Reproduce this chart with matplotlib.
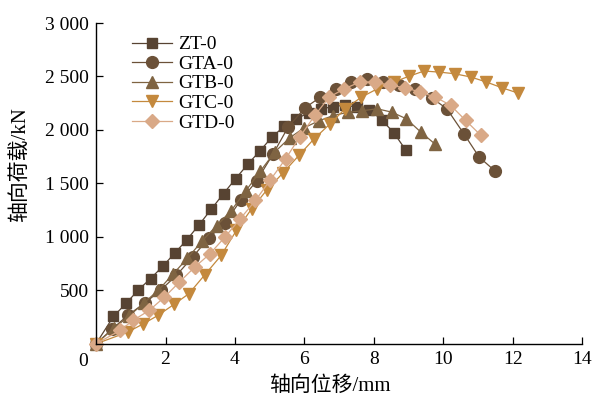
import matplotlib
matplotlib.use("Agg")
import matplotlib.pyplot as plt
from matplotlib.ticker import FixedLocator, FuncFormatter
import matplotlib.transforms as mtransforms

plt.rcParams['font.family'] = ['Liberation Serif', 'Noto Sans CJK SC', 'DejaVu Sans']

# ZT-0
zt_x = [0, 0.5, 0.87, 1.22, 1.57, 1.92, 2.27, 2.62, 2.97, 3.32, 3.67, 4.02, 4.37,
        4.72, 5.07, 5.42, 5.77, 6.12, 6.47, 6.82, 7.17, 7.52, 7.87, 8.22, 8.57, 8.92]
zt_y = [0, 256, 380, 505, 610, 725, 850, 975, 1115, 1260, 1405, 1545, 1680,
        1805, 1935, 2035, 2105, 2160, 2200, 2215, 2235, 2210, 2190, 2095, 1975, 1810]

# GTA-0
gta_x = [0, 0.47, 0.93, 1.40, 1.87, 2.31, 2.78, 3.24, 3.71, 4.16, 4.62, 5.10, 5.53,
         6.02, 6.46, 6.91, 7.35, 7.81, 8.26, 8.73, 9.19, 9.66, 10.10, 10.59, 11.03, 11.5]
gta_y = [0, 140, 271, 380, 505, 639, 811, 988, 1129, 1341, 1522, 1777, 2027,
         2208, 2307, 2385, 2448, 2479, 2448, 2417, 2385, 2301, 2198, 1964, 1746, 1612]

# GTB-0
gtb_x = [0, 0.53, 0.95, 1.37, 1.79, 2.21, 2.63, 3.05, 3.47, 3.89, 4.31, 4.73, 5.15,
         5.57, 5.99, 6.41, 6.83, 7.25, 7.67, 8.09, 8.51, 8.93, 9.35, 9.77]
gtb_y = [0, 150, 260, 380, 500, 650, 800, 960, 1105, 1245, 1430, 1615, 1795,
         1925, 2020, 2085, 2135, 2165, 2180, 2198, 2167, 2105, 1980, 1865]

# GTC-0
gtc_x = [0, 0.91, 1.36, 1.78, 2.24, 2.67, 3.13, 3.6, 4.04, 4.48, 4.92, 5.38, 5.84,
         6.28, 6.74, 7.17, 7.64, 8.1, 8.57, 9.0, 9.44, 9.88, 10.32, 10.79, 11.24,
         11.68, 12.15]
gtc_y = [0, 109, 187, 265, 368, 468, 645, 826, 1060, 1263, 1440, 1597, 1762,
         1918, 2058, 2198, 2307, 2385, 2448, 2501, 2551, 2541, 2526, 2495, 2448,
         2395, 2345]

# GTD-0
gtd_x = [0, 0.69, 1.06, 1.53, 1.97, 2.40, 2.84, 3.28, 3.71, 4.15, 4.59, 5.02, 5.46,
         5.86, 6.3, 6.71, 7.15, 7.59, 8.02, 8.46, 8.9, 9.33, 9.77, 10.21, 10.64, 11.08]
gtd_y = [0, 125, 218, 312, 437, 577, 717, 842, 998, 1169, 1341, 1534, 1731,
         1933, 2136, 2307, 2385, 2448, 2448, 2417, 2395, 2354, 2307, 2230, 2089, 1949]

labels = ["ZT-0", "GTA-0", "GTB-0", "GTC-0", "GTD-0"]
x_ticks = [2, 4, 6, 8, 10, 12, 14]
y_ticks = [500, 1000, 1500, 2000, 2500, 3000]

series = [(zt_x, zt_y, 's', '#574332', 7.5),
          (gta_x, gta_y, 'o', '#6b5138', 8.5),
          (gtb_x, gtb_y, '^', '#7f6442', 8.5),
          (gtc_x, gtc_y, 'v', '#c4893d', 8.5),
          (gtd_x, gtd_y, 'D', '#d9a987', 7)]

fig = plt.figure(figsize=(5.93, 3.97), dpi=100)
ax = fig.add_axes([0.162, 0.134, 0.820, 0.808])

for (xs, ys, m, c, ms), lab in zip(series, labels):
    ax.plot(xs, ys, marker=m, color=c, ms=ms, lw=0.9, mec=c, label=lab, clip_on=False)

ax.set_xlim(0, 14)
ax.set_ylim(0, 3000)
ax.spines['top'].set_visible(False)
ax.spines['right'].set_visible(False)
ax.spines['left'].set_linewidth(1.0)
ax.spines['bottom'].set_linewidth(1.0)

ax.xaxis.set_major_locator(FixedLocator(x_ticks))
ax.yaxis.set_major_locator(FixedLocator(y_ticks))
ax.yaxis.set_major_formatter(FuncFormatter(
    lambda v, p: "{:,}".format(int(v)).replace(",", " ")))
ax.tick_params(direction='in', length=5, width=0.9, labelsize=14, pad=5)

ax.text(0, 0, "0", fontsize=14, ha='center', va='top',
        transform=ax.transData + mtransforms.ScaledTranslation(-13 / 100, -9 / 100, fig.dpi_scale_trans))

ax.set_xlabel("轴向位移/mm", fontsize=15)
ax.set_ylabel("轴向荷载/kN", fontsize=15)
ax.xaxis.set_label_coords(0.48, -0.1)
ax.yaxis.set_label_coords(-0.135, 0.56)

ax.legend(loc='upper left', bbox_to_anchor=(0.222, 0.91), bbox_transform=fig.transFigure,
          frameon=False, fontsize=14, handlelength=2.1, handletextpad=0.3,
          labelspacing=0.1, borderpad=0, borderaxespad=0)

fig.savefig("out.png", dpi=100)
